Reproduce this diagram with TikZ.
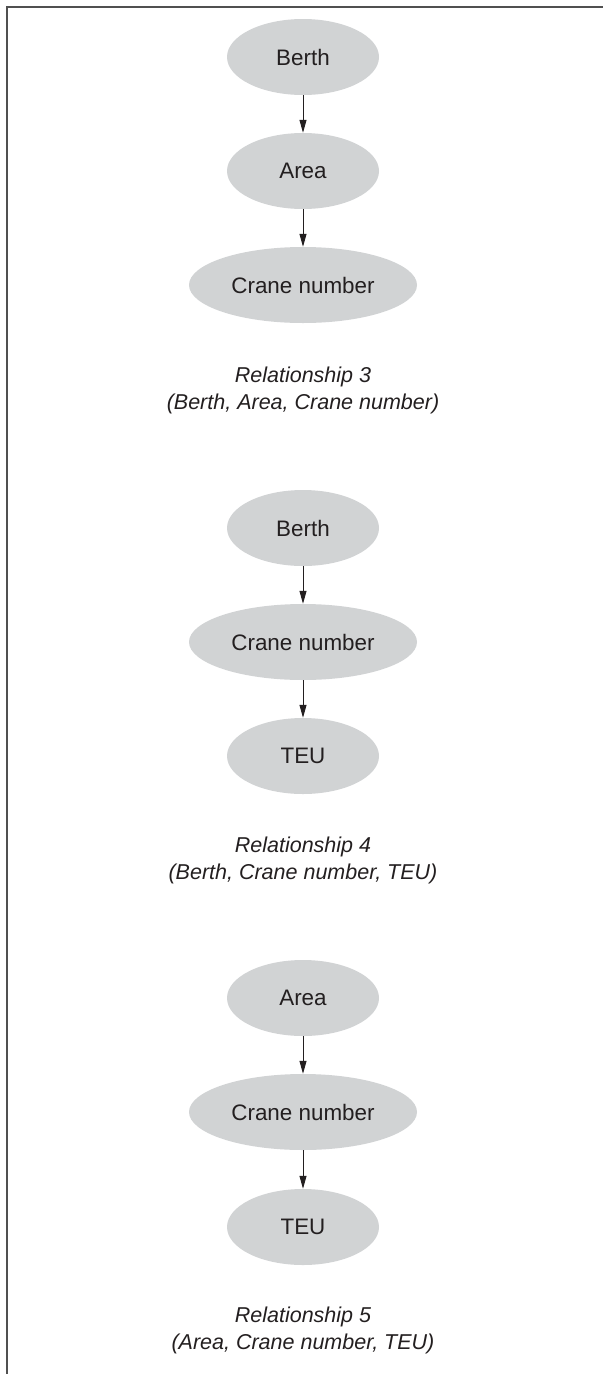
\documentclass[tikz,border=0pt]{standalone}
\usepackage{fontspec}
\setmainfont{Liberation Sans}
\usetikzlibrary{shapes.geometric,arrows.meta}
\definecolor{nodegray}{RGB}{209,211,212}
\definecolor{inkc}{RGB}{35,31,32}
\definecolor{framec}{RGB}{80,80,80}
\tikzset{
  ent/.style={ellipse, fill=nodegray, draw=none, inner sep=0pt,
    minimum width=152pt, minimum height=76pt, text=inkc,
    font=\fontsize{22.4}{27}\selectfont},
  entwide/.style={ent, minimum width=228pt},
  link/.style={draw=inkc, line width=1pt, -{Triangle[length=13pt,width=7pt]}},
  caption/.style={align=center, text=inkc, inner sep=0pt,
    font=\fontsize{21.5}{27}\selectfont\itshape},
  frameline/.style={draw=framec, line width=1.6pt}
}
\begin{document}
\begin{tikzpicture}[x=1pt,y=-1pt]
\useasboundingbox (0,0) rectangle (603,1374);
\coordinate (fA) at (7,1374);
\coordinate (fB) at (7,7);
\coordinate (fC) at (603,7);
\draw[frameline] (fA) -- (fB) -- (fC);
% Relationship 3
\node[ent] (b1) at (303,57) {Berth};
\node[ent] (a1) at (303,171) {Area};
\node[entwide] (c1) at (303,285) {Crane number};
\node[caption] (r3) at (303,390) {Relationship 3\\(Berth, Area, Crane number)};
\draw[link] (b1) -- (a1);
\draw[link] (a1) -- (c1);
% Relationship 4
\node[ent] (b2) at (303,528) {Berth};
\node[entwide] (c2) at (303,642) {Crane number};
\node[ent] (t2) at (303,756) {TEU};
\node[caption] (r4) at (303,860) {Relationship 4\\(Berth, Crane number, TEU)};
\draw[link] (b2) -- (c2);
\draw[link] (c2) -- (t2);
% Relationship 5
\node[ent] (a3) at (303,998) {Area};
\node[entwide] (c3) at (303,1112) {Crane number};
\node[ent] (t3) at (303,1227) {TEU};
\node[caption] (r5) at (303,1330) {Relationship 5\\(Area, Crane number, TEU)};
\draw[link] (a3) -- (c3);
\draw[link] (c3) -- (t3);
\end{tikzpicture}
\end{document}
